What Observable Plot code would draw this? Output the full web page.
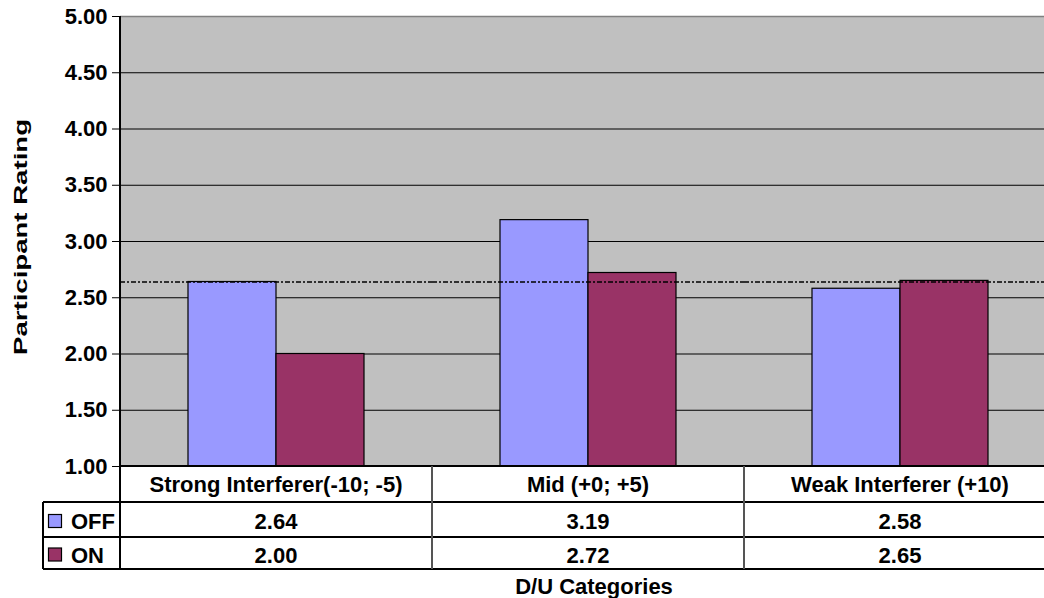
<!DOCTYPE html>
<html>
<head>
<meta charset="utf-8">
<script src="https://cdn.jsdelivr.net/npm/d3@7"></script>
<script src="https://cdn.jsdelivr.net/npm/@observablehq/plot@0.6"></script>
<style>
  body { margin: 0; background: #ffffff; }
  #chart { width: 1044px; height: 598px; overflow: hidden; position: relative; }
  #chart svg { font-family: Arial, "Liberation Sans", sans-serif; }
</style>
</head>
<body>
<div id="chart"></div>
<script>
// Ratings per D/U category, with and without the feature
const categories = ["Strong Interferer(-10; -5)", "Mid (+0; +5)", "Weak Interferer (+10)"];
const seriesNames = ["OFF", "ON"];
const offValues = [2.64, 3.19, 2.58];
const onValues = [2.00, 2.72, 2.65];
const seriesColors = ["#9999FF", "#993366"];
const referenceLevel = 2.64;
const yTicks = [1.0, 1.5, 2.0, 2.5, 3.0, 3.5, 4.0, 4.5, 5.0];
const yTitle = "Participant Rating";
const xTitle = "D/U Categories";

const seriesValues = { OFF: offValues, ON: onValues };
const rows = categories.flatMap((category, i) =>
  seriesNames.map(series => ({ category, series, value: seriesValues[series][i] }))
);

const FONT = 22;

const plot = Plot.plot({
  width: 1044,
  height: 598,
  marginLeft: 120,
  marginRight: -12,
  marginTop: 16,
  marginBottom: 132,
  style: { fontSize: FONT + "px", fontWeight: "bold", color: "#000", background: "transparent", overflow: "hidden" },
  fx: { domain: categories, padding: 0, axis: null },
  x: { domain: seriesNames, paddingInner: 0, paddingOuter: 0.753, axis: null },
  y: { domain: [1, 5], ticks: yTicks, tickFormat: d => d.toFixed(2), tickSize: 8, tickPadding: 5, label: null },
  color: { domain: seriesNames, range: seriesColors },
  marks: [
    Plot.ruleY(yTicks.slice(1, -1), { stroke: "#000", strokeWidth: 1 }),
    Plot.ruleY([yTicks[yTicks.length - 1]], { stroke: "#808080", strokeWidth: 1.5 }),
    Plot.barY(rows, { fx: "category", x: "series", y1: yTicks[0], y2: "value", fill: "series", stroke: "#000", strokeWidth: 1.2 }),
    Plot.ruleY([referenceLevel], { stroke: "#000", strokeWidth: 1.6, strokeDasharray: "5,2,2,2" })
  ]
});

document.getElementById("chart").appendChild(plot);

const svg = d3.select(plot);
const fx = plot.scale("fx");
const y = plot.scale("y");
const bw = fx.bandwidth;
const xLeft = fx.apply(categories[0]);
const xRight = fx.apply(categories[categories.length - 1]) + bw;
const yTop = y.apply(yTicks[yTicks.length - 1]);
const yBase = y.apply(yTicks[0]);

// one continuous grey plot area behind every panel
svg.insert("rect", "g")
  .attr("x", xLeft).attr("y", yTop)
  .attr("width", xRight - xLeft).attr("height", yBase - yTop)
  .attr("fill", "#C0C0C0");

// Data table under the plot, laid out on the same category scale
const rowEdges = [yBase, yBase + 36, yBase + 71, yBase + 103];
const legendLeft = 43;

const g = svg.append("g").attr("fill", "#000").attr("font-weight", "bold").attr("font-size", FONT);
const lines = g.append("g").attr("stroke", "#000").attr("stroke-width", 1.2).attr("shape-rendering", "crispEdges");
// axis line continuing into the table
lines.append("line").attr("x1", xLeft).attr("x2", xLeft).attr("y1", yTop).attr("y2", rowEdges[3]);
lines.append("line").attr("x1", xLeft).attr("x2", xRight).attr("y1", yBase).attr("y2", yBase);
for (let r = 1; r < 4; ++r) {
  lines.append("line").attr("x1", legendLeft).attr("x2", xRight).attr("y1", rowEdges[r]).attr("y2", rowEdges[r]);
}
lines.append("line").attr("x1", legendLeft).attr("x2", legendLeft).attr("y1", rowEdges[1]).attr("y2", rowEdges[3]);
categories.slice(1).forEach(c => {
  const x = fx.apply(c);
  lines.append("line").attr("x1", x).attr("x2", x).attr("y1", yBase).attr("y2", rowEdges[3]).attr("stroke", "#555");
});

// category headers
categories.forEach(c => {
  g.append("text").attr("x", fx.apply(c) + bw / 2).attr("y", (rowEdges[0] + rowEdges[1]) / 2)
    .attr("text-anchor", "middle").attr("dy", "0.36em").text(c);
});
// series rows with legend keys
seriesNames.forEach((s, r) => {
  const cy = (rowEdges[r + 1] + rowEdges[r + 2]) / 2;
  g.append("rect").attr("x", 48.5).attr("y", cy - 5).attr("width", 13).attr("height", 13)
    .attr("fill", seriesColors[r]).attr("stroke", "#000").attr("stroke-width", 1.2);
  g.append("text").attr("x", 71).attr("y", cy).attr("dy", "0.45em").attr("text-anchor", "start").text(s);
  categories.forEach((c, i) => {
    g.append("text").attr("x", fx.apply(c) + bw / 2).attr("y", cy)
      .attr("text-anchor", "middle").attr("dy", "0.45em").text(seriesValues[s][i].toFixed(2));
  });
});

// axis titles
g.append("text").attr("x", (xLeft + xRight) / 2 + 6).attr("y", 594).attr("text-anchor", "middle").text(xTitle);
g.append("text").attr("transform", `translate(27,${(yTop + yBase) / 2 - 4}) rotate(-90)`)
  .attr("text-anchor", "middle").attr("font-size", 19)
  .attr("textLength", 236).attr("lengthAdjust", "spacingAndGlyphs").text(yTitle);
</script>
</body>
</html>
